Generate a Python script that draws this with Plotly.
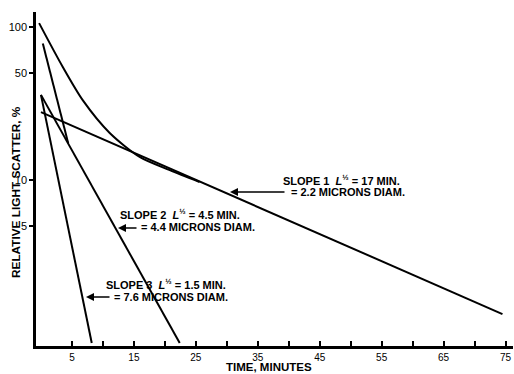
import plotly.graph_objects as go

# Data (time in minutes, relative light scatter in %)
curve_a_x = [-0.3, 3.5, 6.8, 11.1, 16.0, 20.8, 25.6]
curve_a_y = [106, 55, 33, 20.3, 14.1, 11.6, 9.7]

curve_b_x = [0.3, 4.4]
curve_b_y = [78, 17.4]

slope1_x = [0.0, 74.5]
slope1_y = [27.8, 1.33]

slope2_x = [0.0, 22.4]
slope2_y = [36, 0.86]

slope3_x = [0.0, 8.2]
slope3_y = [36, 0.86]

x_tick_vals = [5, 10, 15, 20, 25, 30, 35, 40, 45, 50, 55, 60, 65, 70, 75]
x_tick_text = ["5", "", "15", "", "25", "", "35", "", "45", "", "55", "", "65", "", "75"]
y_tick_vals = [5, 10, 50, 100]
y_tick_text = ["5", "10", "50", "100"]

W, H = 514, 374
L, R, T, B = 36, 1, 12, 28
PW, PH = W - L - R, H - T - B

FONT = "Liberation Sans"
line_style = dict(color="black", width=2)

fig = go.Figure()
fig.add_trace(go.Scatter(x=curve_a_x, y=curve_a_y, mode="lines",
                         line=dict(shape="spline", smoothing=0.8, **line_style)))
fig.add_trace(go.Scatter(x=curve_b_x, y=curve_b_y, mode="lines", line=line_style))
fig.add_trace(go.Scatter(x=slope1_x, y=slope1_y, mode="lines", line=line_style))
fig.add_trace(go.Scatter(x=slope2_x, y=slope2_y, mode="lines", line=line_style))
fig.add_trace(go.Scatter(x=slope3_x, y=slope3_y, mode="lines", line=line_style))


def px(x, y):
    return (x - L) / PW, (H - B - y) / PH


annotations = []


def text(s, x, y, size=11, anchor="left", angle=0, yanchor="middle"):
    xp, yp = px(x, y)
    annotations.append(dict(text=f"<b>{s}</b>", x=xp, y=yp, xref="paper", yref="paper",
                            xanchor=anchor, yanchor=yanchor, showarrow=False,
                            textangle=angle, borderpad=0,
                            font=dict(family=FONT, size=size, color="black")))


def arrow(x_head, y, length):
    xp, yp = px(x_head, y)
    annotations.append(dict(text="", x=xp, y=yp, xref="paper", yref="paper",
                            ax=length, ay=0, showarrow=True, arrowhead=2,
                            arrowsize=1, arrowwidth=1.6, arrowcolor="black"))


LH = "<i>L</i><sup>½</sup>"
text(f"SLOPE 1  {LH} = 17 MIN.", 282, 180)
text("= 2.2 MICRONS DIAM.", 290, 192)
arrow(230, 192, 56)

text(f"SLOPE 2  {LH} = 4.5 MIN.", 119, 214)
text("= 4.4 MICRONS DIAM.", 140, 227)
arrow(118, 228, 20)

text(f"SLOPE 3  {LH} = 1.5 MIN.", 105, 284)
text("= 7.6 MICRONS DIAM.", 113, 297)
arrow(86, 297, 25)

text("RELATIVE LIGHT SCATTER, %", 16, 192, size=11.8, anchor="center", angle=-90)
text("TIME, MINUTES", 269, 374, size=11.5, anchor="center", yanchor="bottom")

fig.update_layout(
    width=W, height=H,
    margin=dict(l=L, r=R, t=T, b=B, pad=0, autoexpand=False),
    paper_bgcolor="white", plot_bgcolor="white",
    showlegend=False,
    annotations=annotations,
    font=dict(family=FONT, size=11, color="black"),
)
fig.update_xaxes(range=[-0.8, 76.2], showgrid=False, zeroline=False, automargin=False,
                 showline=True, linecolor="black", linewidth=2.5,
                 tickmode="array", tickvals=x_tick_vals, ticktext=x_tick_text,
                 ticks="inside", ticklen=5, tickwidth=1.5, tickcolor="black",
                 tickfont=dict(family=FONT, size=10, color="black"))
fig.update_yaxes(type="log", range=[-0.085, 2.098], showgrid=False, zeroline=False,
                 automargin=False,
                 showline=True, linecolor="black", linewidth=2.5,
                 tickmode="array", tickvals=y_tick_vals, ticktext=y_tick_text,
                 ticks="outside", ticklen=4, tickwidth=1.5, tickcolor="black",
                 tickfont=dict(family=FONT, size=11, color="black"))

fig.write_html("out.html", config={"displayModeBar": False},
               post_script="document.body.style.margin='0';document.body.style.overflow='hidden';")
